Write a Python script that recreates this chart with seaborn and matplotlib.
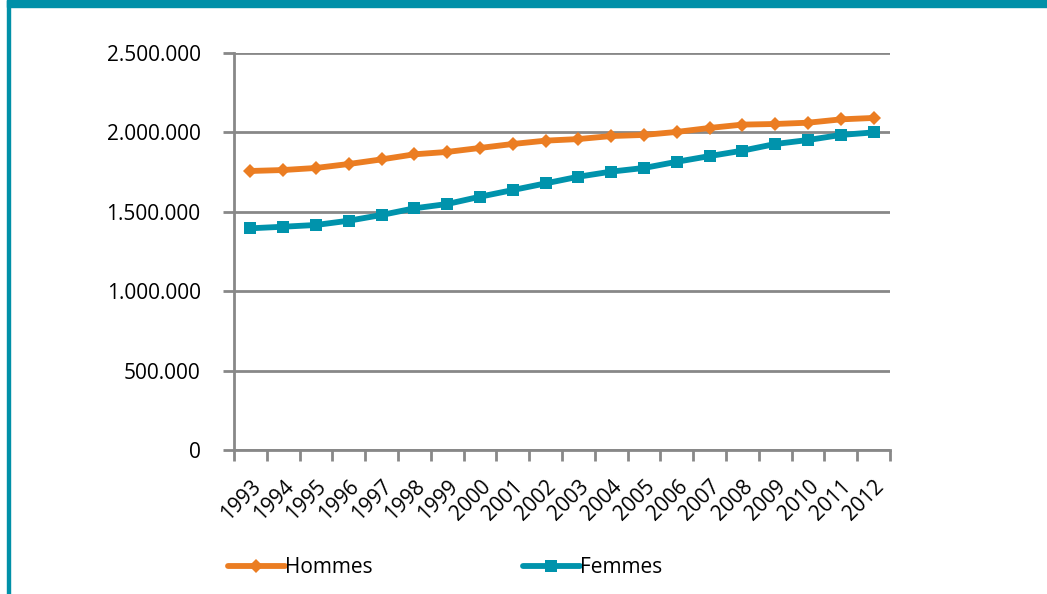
import pandas as pd
import seaborn as sns
import matplotlib.pyplot as plt
from matplotlib.patches import Rectangle
from matplotlib.ticker import FuncFormatter, FixedLocator

years = list(range(1993, 2013))
hommes = [1757000, 1763000, 1776000, 1801000, 1830000, 1862000, 1877000, 1902000, 1927000, 1948000,
          1958000, 1977000, 1984000, 2003000, 2028000, 2049000, 2053000, 2061000, 2082000, 2091000]
femmes = [1396000, 1406000, 1417000, 1444000, 1480000, 1522000, 1549000, 1595000, 1637000, 1679000,
          1721000, 1753000, 1776000, 1815000, 1851000, 1885000, 1927000, 1952000, 1984000, 2000000]
series = ['Hommes', 'Femmes']
colors = {'Hommes': '#EB7D22', 'Femmes': '#0093AC'}

df = pd.concat([
    pd.DataFrame({'annee': years, 'valeur': hommes, 'sexe': 'Hommes'}),
    pd.DataFrame({'annee': years, 'valeur': femmes, 'sexe': 'Femmes'}),
])

sns.set_style('white')
plt.rcParams['font.family'] = ['Open Sans', 'DejaVu Sans']
plt.rcParams['text.color'] = 'black'

fig = plt.figure(figsize=(10.47, 5.94), dpi=100)
ax = fig.add_axes([0.2235, 0.2424, 0.6266, 0.6684])

sns.lineplot(data=df, x='annee', y='valeur', hue='sexe', style='sexe', hue_order=series,
             palette=colors, markers={'Hommes': 'D', 'Femmes': 's'}, dashes=False,
             linewidth=4.2, markersize=7, markeredgewidth=0, ax=ax)
for line in ax.lines:
    if line.get_marker() == 's':
        line.set_markersize(8.5)

ax.set_xlim(years[0] - 0.5, years[-1] + 0.5)
ax.set_ylim(0, 2500000)
ax.set_yticks(range(0, 2500001, 500000))
ax.yaxis.set_major_formatter(FuncFormatter(lambda v, p: f'{int(v):,}'.replace(',', '.')))
ax.set_xticks(years)
ax.set_xticklabels([str(y) for y in years], rotation=45, ha='right', rotation_mode='anchor')
ax.xaxis.set_minor_locator(FixedLocator([y - 0.5 for y in years] + [years[-1] + 0.5]))
ax.tick_params(axis='x', which='major', length=0, pad=19, labelsize=15, labelcolor='black')
ax.tick_params(axis='x', which='minor', length=8, width=2, color='#888888', direction='out', bottom=True)
ax.tick_params(axis='y', length=8, width=2, color='#888888', left=True, labelsize=15, pad=16,
               labelcolor='black')

ax.grid(axis='y', color='#888888', linewidth=2)
ax.set_axisbelow(True)
for side in ['top', 'right']:
    ax.spines[side].set_visible(False)
for side in ['left', 'bottom']:
    ax.spines[side].set_color('#888888')
    ax.spines[side].set_linewidth(2)
ax.set_xlabel('')
ax.set_ylabel('')

handles, labels = ax.get_legend_handles_labels()
leg = ax.legend(handles, labels, loc='center left', bbox_to_anchor=(-0.038, -0.297), ncol=2,
                frameon=False, fontsize=15, handlelength=2.75, columnspacing=7.2, handletextpad=0.0)
for t in leg.get_texts():
    t.set_color('black')

# cadre : bandeau en haut et bord gauche
fig.patches.append(Rectangle((7 / 1047, 0), 0.0025, 1, transform=fig.transFigure,
                             color='#0090A8', zorder=0))
fig.patches.append(Rectangle((7 / 1047, 1 - 7 / 594), 1, 7 / 594, transform=fig.transFigure,
                             color='#0090A8', zorder=0))

fig.savefig('out.png', dpi=100)
